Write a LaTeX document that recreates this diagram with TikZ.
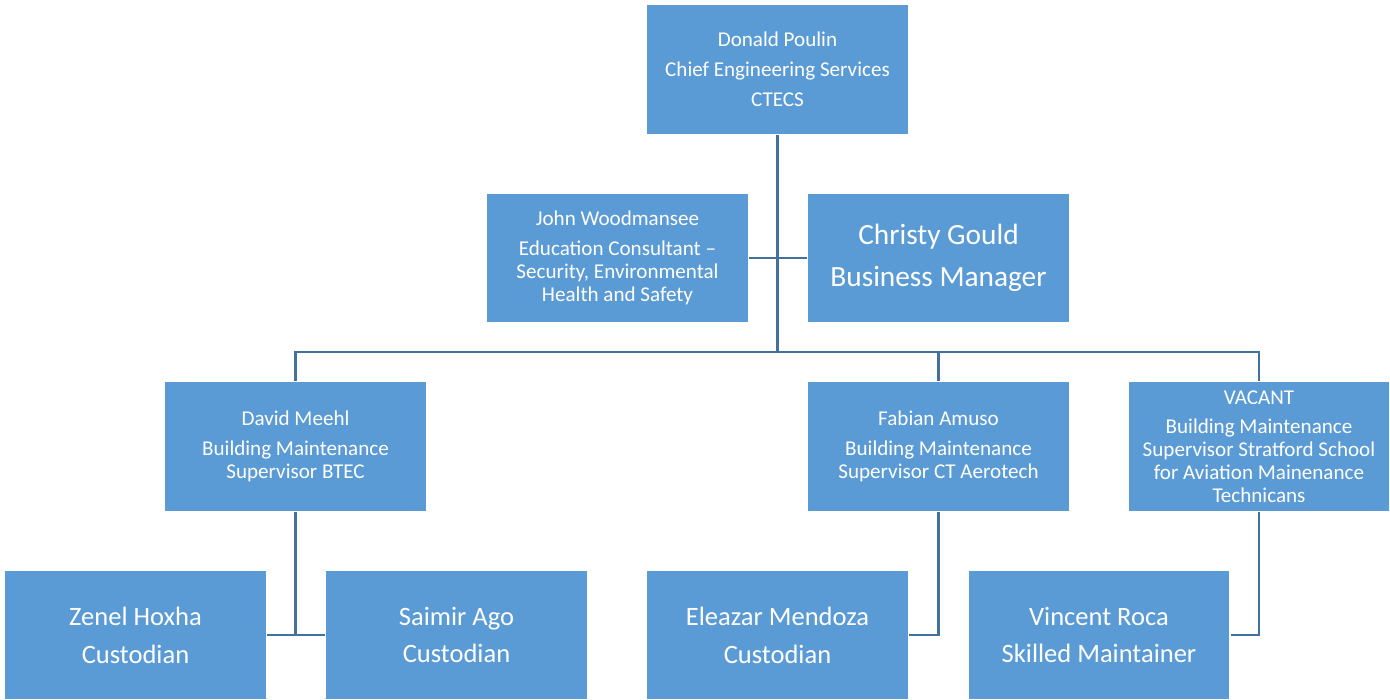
\documentclass[tikz,border=0pt]{standalone}
\usepackage{fontspec}
\setmainfont{Carlito}
\definecolor{boxblue}{HTML}{5B9BD5}
\definecolor{lineblue}{HTML}{41719C}
\begin{document}
\begin{tikzpicture}[x=0.02cm,y=-0.02cm,
    box/.style={draw=white, line width=0.6pt, fill=boxblue, text=white, minimum width=5.24cm, minimum height=2.6cm, align=center, inner sep=1pt, font=\fontsize{12}{13}\selectfont},
    bigbox/.style={box, font=\fontsize{15.1}{21.5}\selectfont},
    link/.style={draw=lineblue, line width=1.2pt}]
    \useasboundingbox (0,0) rectangle (1390,700);
    % boxes
    \node[box] (chief) at (777.5,69.5) {Donald Poulin\\[4pt]Chief Engineering Services\\[4pt]CTECS};
    \node[box] (john) at (617.5,258) {John Woodmansee\\[4pt]Education Consultant --\\Security, Environmental\\Health and Safety};
    \node[bigbox, font=\fontsize{16.7}{24}\selectfont] (christy) at (938.5,258) {Christy Gould\\Business Manager};
    \node[box] (david) at (295.5,446.5) {David Meehl\\[4pt]Building Maintenance\\Supervisor BTEC};
    \node[box] (fabian) at (938.5,446.5) {Fabian Amuso\\[4pt]Building Maintenance\\Supervisor CT Aerotech};
    \node[box] (vacant) at (1259,446.5) {VACANT\\[4pt]Building Maintenance\\Supervisor Stratford School\\for Aviation Mainenance\\Technicans};
    \node[bigbox] (zenel) at (135.5,635) {Zenel Hoxha\\Custodian};
    \node[bigbox] (saimir) at (456.5,635) {Saimir Ago\\Custodian};
    \node[bigbox] (eleazar) at (777.5,635) {Eleazar Mendoza\\Custodian};
    \node[bigbox] (vincent) at (1099,635) {Vincent Roca\\Skilled Maintainer};
    \coordinate (bus) at (777.5,352);
    % lines
    \draw[link] (chief.south) -- (bus);
    \draw[link] (john.east) -- (christy.west);
    \draw[link] (david.north) |- (bus) -| (vacant.north);
    \draw[link] (fabian.north) -- (fabian.north |- bus);
    \draw[link] (david.south) -- (david.south |- zenel.east);
    \draw[link] (zenel.east) -- (saimir.west);
    \draw[link] (fabian.south) |- (eleazar.east);
    \draw[link] (vacant.south) |- (vincent.east);
\end{tikzpicture}
\end{document}
